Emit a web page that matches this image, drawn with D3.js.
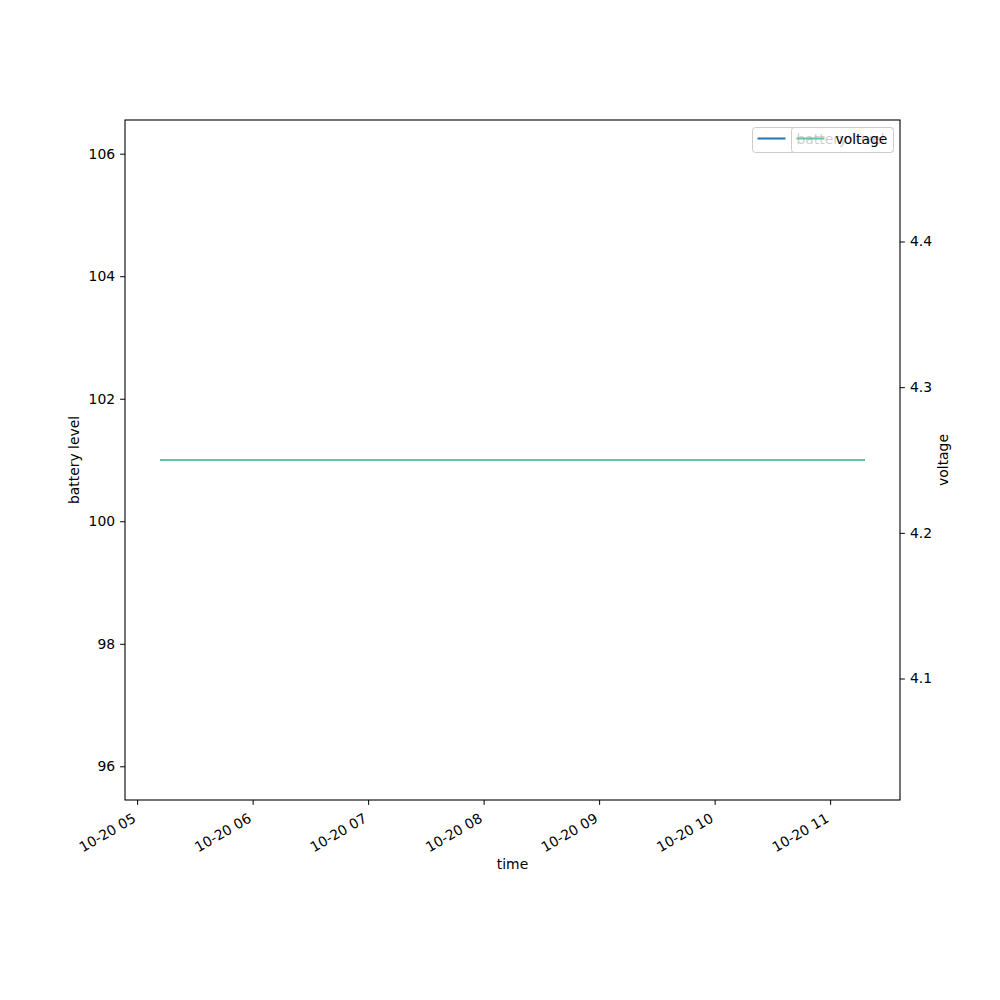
<!DOCTYPE html>
<html>
<head>
<meta charset="utf-8">
<script src="https://cdn.jsdelivr.net/npm/d3@7"></script>
<style>
    body { margin: 0; background: #fff; }
    svg text { font-family: "DejaVu Sans", sans-serif; font-size: 13.9px; fill: #000; }
</style>
</head>
<body>
<div id="chart"></div>
<script>
'use strict';

// data
const times = ['2023-10-20T05:12', '2023-10-20T11:18'];
const batteryLevel = [101, 101];
const voltage = [4.25, 4.25];
const seriesNames = ['battery level', 'voltage'];
const seriesColors = ['#1f77b4', '#66c2a5'];
const xTickHours = [5, 6, 7, 8, 9, 10, 11];
const leftTicks = [96, 98, 100, 102, 104, 106];
const rightTicks = [4.1, 4.2, 4.3, 4.4];

const width = 1000, height = 1000;
const margin = {left: 125, right: 100, top: 120, bottom: 200};
const plotW = width - margin.left - margin.right;
const plotH = height - margin.top - margin.bottom;

const parse = d3.timeParse('%Y-%m-%dT%H:%M');
const dates = times.map(parse);

// 5% margins like matplotlib autoscale
const t0 = dates[0].getTime(), t1 = dates[dates.length - 1].getTime();
const pad = (t1 - t0) * 0.05;
let x = d3.scaleTime()
    .domain([new Date(t0 - pad), new Date(t1 + pad)])
    .range([margin.left, margin.left + plotW]);
let yLeft = d3.scaleLinear().domain([95.45, 106.55]).range([margin.top + plotH, margin.top]);
let yRight = d3.scaleLinear().domain([4.0166, 4.4834]).range([margin.top + plotH, margin.top]);

let svg = d3.select('#chart').append('svg')
    .attr('width', width)
    .attr('height', height);

let g = svg.append('g');

function drawLine(values, yScale, color) {
    let pts = dates.map(function(d, i) { return [d, values[i]]; });
    g.append('path')
        .datum(pts)
        .attr('fill', 'none')
        .attr('stroke', color)
        .attr('stroke-width', 2)
        .attr('d', d3.line()
            .x(function(p) { return x(p[0]); })
            .y(function(p) { return yScale(p[1]); }));
}
drawLine(batteryLevel, yLeft, seriesColors[0]);
drawLine(voltage, yRight, seriesColors[1]);

// axes
const tickVals = xTickHours.map(function(h) { return new Date(2023, 9, 20, h, 0); });
let xAxis = svg.append('g')
    .attr('transform', `translate(0,${margin.top + plotH})`)
    .call(d3.axisBottom(x).tickValues(tickVals).tickSizeOuter(0).tickSize(4.9).tickPadding(4)
        .tickFormat(d3.timeFormat('%m-%d %H')));
// rotated labels: top-right corner sits under the tick, like autofmt_xdate
xAxis.selectAll('text')
    .attr('text-anchor', 'end')
    .attr('x', 0)
    .attr('y', 0)
    .attr('dy', '0.76em')
    .attr('transform', 'translate(-6,12) rotate(-30)');

svg.append('g')
    .attr('transform', `translate(${margin.left},0)`)
    .call(d3.axisLeft(yLeft).tickValues(leftTicks).tickSizeOuter(0).tickSize(4.9).tickPadding(5)
        .tickFormat(d3.format('d')));

svg.append('g')
    .attr('transform', `translate(${margin.left + plotW},0)`)
    .call(d3.axisRight(yRight).tickValues(rightTicks).tickSizeOuter(0).tickSize(4.9).tickPadding(5)
        .tickFormat(d3.format('.1f')));

svg.selectAll('.domain').remove();
svg.selectAll('.tick line').attr('stroke', '#000').attr('stroke-width', 1);
svg.selectAll('.tick text').style('font-size', '13.9px').attr('fill', '#000');

// frame
svg.append('rect')
    .attr('x', margin.left).attr('y', margin.top)
    .attr('width', plotW).attr('height', plotH)
    .attr('fill', 'none').attr('stroke', '#000').attr('stroke-width', 1.1);

// axis labels
svg.append('text')
    .attr('x', margin.left + plotW / 2).attr('y', 869)
    .attr('text-anchor', 'middle').text('time');
svg.append('text')
    .attr('transform', `translate(79,${margin.top + plotH / 2}) rotate(-90)`)
    .attr('text-anchor', 'middle').text('battery level');
svg.append('text')
    .attr('transform', `translate(948,${margin.top + plotH / 2}) rotate(-90)`)
    .attr('text-anchor', 'middle').text('voltage');

// two overlapping legends, one per axis, like twinx
function drawLegend(label, color, boxX, boxW) {
    let lg = svg.append('g');
    lg.append('rect')
        .attr('x', boxX).attr('y', 127.5)
        .attr('width', boxW).attr('height', 25)
        .attr('rx', 3)
        .attr('fill', '#fff').attr('fill-opacity', 0.8)
        .attr('stroke', '#ccc').attr('stroke-width', 1);
    lg.append('line')
        .attr('x1', boxX + 5).attr('x2', boxX + 33)
        .attr('y1', 138.5).attr('y2', 138.5)
        .attr('stroke', color).attr('stroke-width', 2);
    lg.append('text')
        .attr('x', boxX + 44).attr('y', 143.5)
        .text(label);
}
drawLegend(seriesNames[0], seriesColors[0], 752.5, 141);
drawLegend(seriesNames[1], seriesColors[1], 791.5, 102);
</script>
</body>
</html>
